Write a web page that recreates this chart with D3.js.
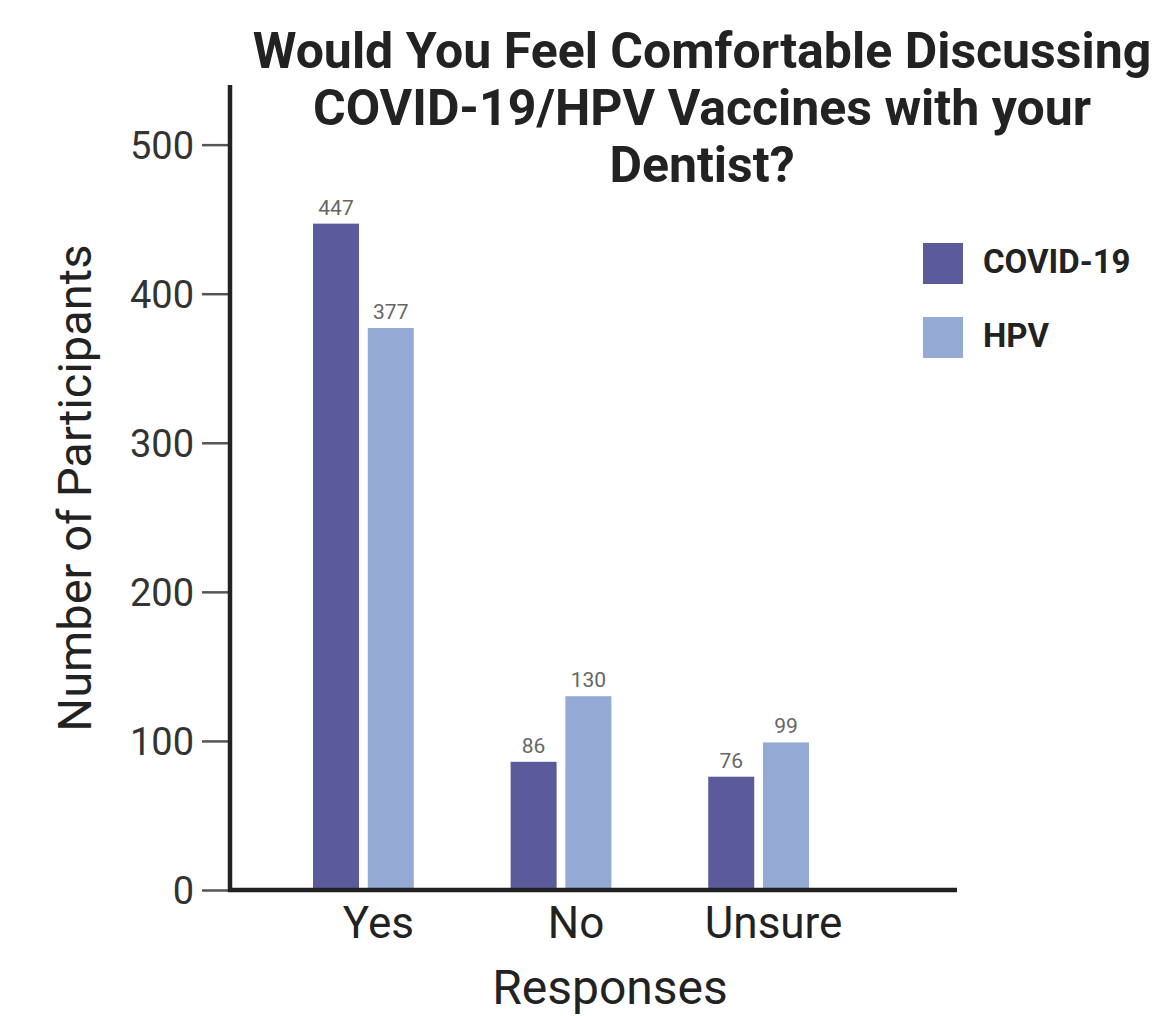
<!DOCTYPE html>
<html><head><meta charset="utf-8">
<script src="https://cdn.jsdelivr.net/npm/d3@7"></script>
<style>
html,body{margin:0;padding:0;background:#fff;}
svg{display:block;font-family:Roboto,"Noto Sans",sans-serif;}
</style></head>
<body>
<svg id="chart" width="1163" height="1016"></svg>
<script>
const categories = ["Yes", "No", "Unsure"];
const seriesNames = ["COVID-19", "HPV"];
const covidValues = [447, 86, 76];
const hpvValues = [377, 130, 99];
const yTicks = [0, 100, 200, 300, 400, 500];
const titleLines = ["Would You Feel Comfortable Discussing", "COVID-19/HPV Vaccines with your", "Dentist?"];
const colors = ["#5b5b9c", "#94a9d4"];

(function () {
const svg = d3.select("#chart");
const plotLeft = 230, plotRight = 957, plotBottom = 890, plotTop = 85;

const y = d3.scaleLinear().domain([0, 540]).range([plotBottom, plotTop]);
const x = d3.scaleBand().domain(categories).range([plotLeft, 892]).paddingInner(0.49).paddingOuter(0.42);
const xSub = d3.scaleBand().domain(seriesNames).range([0, x.bandwidth()]).paddingInner(0.16);
const color = d3.scaleOrdinal().domain(seriesNames).range(colors);

const data = categories.map((c, i) => ({cat: c, vals: [
  {s: seriesNames[0], v: covidValues[i]},
  {s: seriesNames[1], v: hpvValues[i]}
]}));

// bars
const g = svg.append("g").selectAll("g").data(data).join("g")
  .attr("transform", d => `translate(${x(d.cat)},0)`);
g.selectAll("rect").data(d => d.vals).join("rect")
  .attr("x", d => xSub(d.s))
  .attr("width", xSub.bandwidth())
  .attr("y", d => y(d.v))
  .attr("height", d => y(0) - y(d.v))
  .attr("fill", d => color(d.s));
g.selectAll("text").data(d => d.vals).join("text")
  .attr("x", d => xSub(d.s) + xSub.bandwidth() / 2)
  .attr("y", d => y(d.v) - 9)
  .attr("text-anchor", "middle")
  .attr("font-size", 21)
  .attr("fill", "#666")
  .text(d => d.v);

// y axis
const yAxis = svg.append("g").attr("transform", `translate(${plotLeft},0)`)
  .call(d3.axisLeft(y).tickValues(yTicks).tickSize(28).tickPadding(8));
yAxis.select(".domain").remove();
yAxis.selectAll(".tick line").attr("stroke", "#555").attr("stroke-width", 2.5);
yAxis.selectAll(".tick text").attr("font-size", 38).attr("fill", "#333")
  .attr("font-family", "Roboto").attr("dy", "0.36em");
svg.append("line").attr("x1", plotLeft).attr("x2", plotLeft).attr("y1", plotTop).attr("y2", plotBottom + 2)
  .attr("stroke", "#222").attr("stroke-width", 4.5);

// x axis
svg.append("line").attr("x1", plotLeft - 2).attr("x2", plotRight).attr("y1", plotBottom).attr("y2", plotBottom)
  .attr("stroke", "#222").attr("stroke-width", 4.5);
const xAxis = svg.append("g").attr("transform", `translate(15,${plotBottom})`)
  .call(d3.axisBottom(x).tickSize(0).tickPadding(17));
xAxis.select(".domain").remove();
xAxis.selectAll(".tick text").attr("font-size", 44).attr("fill", "#222")
  .attr("font-family", "Roboto").attr("dy", "0.71em");

// axis titles
svg.append("text").attr("x", 610).attr("y", 1004).attr("text-anchor", "middle")
  .attr("font-size", 48).attr("fill", "#222").text("Responses");
svg.append("text").attr("transform", "translate(91,488) rotate(-90)")
  .attr("text-anchor", "middle").attr("font-size", 47).attr("fill", "#222")
  .text("Number of Participants");

// title
svg.append("text").attr("text-anchor", "middle").attr("font-weight", "bold")
  .attr("font-size", 50).attr("fill", "#222")
  .selectAll("tspan").data(titleLines).join("tspan")
  .attr("x", 702).attr("y", (d, i) => 68 + i * 57).text(d => d);

// legend
const leg = svg.append("g").selectAll("g").data(seriesNames).join("g")
  .attr("transform", (d, i) => `translate(923,${243 + i * 74})`);
leg.append("rect").attr("width", 40).attr("height", 41).attr("fill", d => color(d));
leg.append("text").attr("x", 60).attr("y", 30).attr("font-size", 33).attr("font-weight", "bold")
  .attr("fill", "#222").text(d => d);
})();
</script>
</body></html>
